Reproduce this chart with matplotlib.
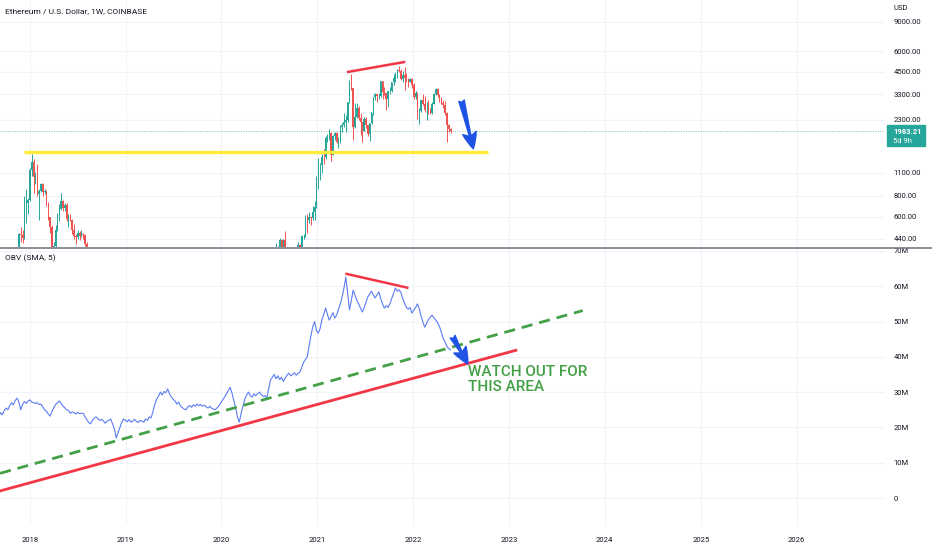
import pandas as pd
import numpy as np
import matplotlib
matplotlib.use('Agg')
import matplotlib.pyplot as plt
import matplotlib.dates as mdates
import matplotlib.ticker as mticker
from matplotlib.lines import Line2D
from matplotlib.patches import Rectangle

plt.rcParams.update({'font.family': ['Roboto', 'DejaVu Sans'], 'font.size': 5.5})

# ETH/USD weekly candles, first visible block (week of 2017-11-13 on)
seg1_start = '2017-11-13'
seg1_open = [315, 355, 470, 465, 445, 690, 720, 760, 1150, 1290, 1040, 1060, 820, 860, 940, 845, 860, 700, 600, 520,
             395, 400, 500, 620, 670, 750, 680, 700, 580, 600, 570, 500, 455, 450, 475, 460, 470, 465, 410]
seg1_high = [370, 480, 520, 500, 800, 880, 780, 1180, 1430, 1330, 1110, 1250, 880, 960, 960, 880, 870, 730, 600, 530,
             420, 530, 630, 710, 830, 760, 720, 720, 625, 625, 580, 540, 470, 495, 490, 500, 480, 470, 420]
seg1_low = [305, 350, 420, 415, 440, 550, 620, 740, 1050, 830, 950, 800, 575, 840, 800, 820, 690, 570, 480, 370,
            365, 380, 490, 560, 660, 650, 650, 560, 520, 560, 470, 440, 410, 440, 430, 450, 440, 400, 300]
seg1_close = [355, 470, 465, 445, 690, 720, 760, 1150, 1290, 1040, 1060, 820, 860, 940, 845, 860, 700, 600, 520, 395,
              400, 500, 620, 670, 750, 680, 700, 580, 600, 570, 500, 455, 450, 475, 460, 470, 465, 410, 320]

# second visible block (week of 2020-07-06 up to the running week)
seg2_start = '2020-07-06'
seg2_open = [242, 240, 238, 310, 395, 395, 430, 390, 430, 355, 370, 370, 355, 350, 375, 370, 405, 385, 460, 460,
             600, 575, 600, 590, 640, 685, 1040, 1230, 1230, 1380, 1370, 1780, 1780, 1930, 1420, 1830, 1920, 1690, 1690, 2080,
             2140, 2240, 2300, 2950, 3900, 3580, 2100, 2400, 2700, 2380, 2250, 1980, 2330, 2140, 1900, 2190, 2560, 3160, 3300, 3230,
             3230, 3930, 3400, 3330, 3060, 3420, 3420, 3880, 4100, 4300, 4600, 4570, 4090, 4290, 4130, 3970, 3920, 4050, 3760, 3150,
             3330, 2540, 2600, 3030, 2880, 2630, 2630, 2550, 2520, 2860, 3300, 3520, 3260, 3060, 2920, 2830, 2520, 2140, 2040]
seg2_high = [250, 245, 330, 415, 400, 445, 440, 440, 490, 390, 395, 375, 365, 380, 390, 420, 410, 465, 470, 615,
             620, 635, 600, 690, 740, 1050, 1350, 1270, 1470, 1540, 1830, 1880, 2040, 1950, 1870, 1950, 1940, 1820, 2140, 2200,
             2550, 2470, 2950, 4000, 4370, 3600, 2900, 2900, 2800, 2550, 2250, 2400, 2400, 2150, 2200, 2550, 3180, 3330, 3300, 3370,
             3970, 3970, 3640, 3360, 3460, 3640, 3890, 4380, 4460, 4670, 4870, 4650, 4550, 4780, 4420, 4100, 4130, 4100, 3850, 3420,
             3380, 2700, 3040, 3280, 3200, 2960, 3050, 2730, 2950, 3350, 3580, 3580, 3300, 3180, 3030, 3000, 2560, 2160, 2060]
seg2_low = [235, 230, 236, 300, 360, 365, 375, 375, 310, 325, 355, 310, 335, 335, 360, 370, 370, 375, 440, 450,
            480, 545, 535, 570, 570, 680, 880, 1000, 1100, 1250, 1340, 1700, 1750, 1300, 1420, 1730, 1670, 1550, 1680, 1940,
            2100, 1950, 2250, 2900, 3500, 1730, 2050, 2380, 2300, 1870, 1700, 1980, 2050, 1850, 1720, 2160, 2460, 3050, 2950, 3060,
            3150, 3100, 3270, 2650, 2740, 3300, 3400, 3730, 3900, 4140, 4500, 3990, 3900, 3500, 3900, 3640, 3900, 3600, 3060, 3100,
            2330, 2160, 2580, 2830, 2570, 2300, 2500, 2500, 2500, 2860, 3250, 3170, 2950, 2880, 2700, 2480, 1700, 1950, 1930]
seg2_close = [240, 238, 310, 395, 395, 430, 390, 430, 355, 370, 370, 355, 350, 375, 370, 405, 385, 460, 460, 600,
              575, 600, 590, 640, 685, 1040, 1230, 1230, 1380, 1370, 1780, 1780, 1930, 1420, 1830, 1920, 1690, 1690, 2080, 2140,
              2240, 2300, 2950, 3900, 3580, 2100, 2400, 2700, 2380, 2250, 1980, 2330, 2140, 1900, 2190, 2560, 3160, 3300, 3230, 3230,
              3930, 3400, 3330, 3060, 3420, 3420, 3880, 4100, 4300, 4600, 4570, 4090, 4290, 4130, 3970, 3920, 4050, 3760, 3150, 3330,
              2540, 2600, 3030, 2880, 2630, 2630, 2550, 2520, 2860, 3300, 3520, 3260, 3060, 2920, 2830, 2520, 2140, 2040, 1983.21]

# OBV (SMA 5), weekly, millions
obv_start = '2017-09-04'
obv_m = [23.0, 24.2, 23.6, 24.8, 25.5, 25.0, 26.2, 27.0, 26.4, 27.6,
         28.3, 27.2, 25.0, 26.5, 27.3, 26.8, 27.5, 27.8, 27.2, 27.0,
         26.8, 27.0, 26.5, 26.6, 25.8, 25.0, 24.6, 23.8, 23.2, 24.5,
         25.6, 26.5, 27.0, 27.5, 26.8, 26.0, 25.6, 25.0, 24.8, 24.0,
         24.4, 24.2, 23.8, 24.3, 23.9, 24.0, 24.0, 23.0, 22.2, 21.4,
         21.0, 22.0, 22.6, 23.0, 22.5, 22.0, 22.3, 21.8, 21.2, 21.8,
         22.0, 22.4, 21.0, 19.5, 17.0, 18.5, 20.0, 21.5, 22.4, 22.0,
         21.6, 22.2, 21.5, 21.8, 22.3, 21.7, 21.4, 22.0, 21.8, 21.5,
         22.4, 22.0, 23.0, 22.7, 24.5, 26.5, 28.0, 28.8, 30.0, 29.2,
         30.2, 29.8, 30.9, 29.5, 28.6, 28.0, 27.5, 26.6, 27.2, 26.0,
         25.6, 25.2, 25.0, 25.8, 26.2, 25.7, 26.4, 26.0, 26.6, 26.2,
         26.5, 26.0, 26.3, 25.8, 25.5, 26.0, 25.4, 25.2, 25.0, 25.6,
         26.2, 27.0, 27.8, 28.6, 29.5, 30.4, 31.4, 29.8, 27.6, 25.5,
         23.0, 21.5, 24.0, 26.0, 28.0, 29.2, 30.0, 29.0, 28.6, 29.5,
         29.0, 29.6, 30.0, 29.2, 28.8, 29.0, 28.3, 31.0, 33.5, 34.2,
         35.0, 33.8, 34.6, 33.5, 34.2, 33.0, 34.0, 34.8, 35.4, 34.6,
         35.0, 35.5, 34.8, 35.3, 35.7, 37.0, 38.5, 39.2, 40.0, 43.0,
         46.0, 48.5, 50.0, 47.5, 46.7, 48.0, 50.5, 52.0, 53.8, 52.0,
         50.4, 51.5, 52.5, 51.0, 51.8, 53.5, 55.0, 57.0, 59.5, 62.6,
         58.0, 53.3, 56.0, 58.9, 57.5, 56.0, 55.0, 53.8, 52.7, 54.0,
         55.5, 57.0, 57.8, 58.6, 57.5, 56.7, 57.6, 58.4, 56.5, 55.0,
         53.8, 54.5, 54.0, 55.0, 56.5, 58.0, 59.5, 58.6, 59.0, 58.2,
         56.5, 55.2, 54.0, 53.5, 54.0, 52.4, 53.2, 54.0, 55.0, 53.6,
         51.5, 49.8, 48.4, 49.5, 50.6, 51.2, 51.8, 51.0, 50.4, 49.6,
         48.6, 47.0, 45.3, 44.2, 43.0, 42.3, 42.0]

last_price = 1983.21
price_ticks = [440, 600, 800, 1100, 2300, 3300, 4500, 6000, 9000]
obv_ticks = [0, 10, 20, 30, 40, 50, 60, 70]

UP, DOWN = '#26a69a', '#ef5350'
TXT = '#131722'
GRID = '#f0f3fa'

fig = plt.figure(figsize=(9.32, 5.5), dpi=100)
ax1 = fig.add_axes([0, 1 - 247 / 550, 885 / 932, 247 / 550])
ax2 = fig.add_axes([0, 1 - 525 / 550, 885 / 932, 277 / 550], sharex=ax1)


def draw_candles(ax, start, o, h, l, c):
    d = pd.date_range(start, periods=len(o), freq='W-MON')
    o, h, l, c = map(np.array, (o, h, l, c))
    col = np.where(c >= o, UP, DOWN)
    ax.vlines(d, l, h, colors=col, lw=0.7, zorder=3)
    ax.bar(d, np.abs(c - o), bottom=np.minimum(o, c), width=5.5, color=col, linewidth=0, zorder=4)


draw_candles(ax1, seg1_start, seg1_open, seg1_high, seg1_low, seg1_close)
draw_candles(ax1, seg2_start, seg2_open, seg2_high, seg2_low, seg2_close)

obv_dates = pd.date_range(obv_start, periods=len(obv_m), freq='W-MON')
ax2.plot(obv_dates, obv_m, color='#5b7cf5', lw=0.8, zorder=3)

T = pd.Timestamp
# drawings on the price pane
ax1.axhline(last_price, color=UP, ls=(0, (1, 1.5)), lw=0.7, alpha=0.6, zorder=2)
ax1.plot([T('2017-12-09'), T('2022-10-12')], [1480, 1480], color='#ffeb3b', lw=2.4,
         solid_capstyle='butt', zorder=5)
ax1.plot([T('2021-04-28'), T('2021-11-27')], [4490, 5150], color='#f23645', lw=1.8, zorder=5)
arrow = dict(arrowstyle='fancy,head_length=1.3,head_width=1.1,tail_width=0.45',
             color='#1e53e5', mutation_scale=9, shrinkA=0, shrinkB=0)
ax1.annotate('', xy=(T('2022-08-18'), 1540), xytext=(T('2022-07-04'), 3008), arrowprops=arrow, zorder=6)

# drawings on the OBV pane
ax2.plot([T('2017-09-09'), T('2023-10-09')], [7.0, 53.1], color='#43a047', lw=2.0,
         dashes=(4, 2.5), zorder=4)
ax2.plot([T('2017-09-09'), T('2023-01-27')], [2.0, 41.85], color='#f23645', lw=2.0, zorder=4)
ax2.plot([T('2021-04-22'), T('2021-12-09')], [63.5, 59.6], color='#f23645', lw=1.8, zorder=4)
ax2.annotate('', xy=(T('2022-07-28'), 38.0), xytext=(T('2022-05-31'), 45.7), arrowprops=arrow, zorder=6)
ax2.text(T('2022-07-28'), 37.6, 'WATCH OUT FOR\nTHIS AREA', color='#43a047', fontsize=11,
         fontweight='medium', va='top', ha='left', linespacing=1.05, zorder=6)

# axes styling
ax1.set_yscale('log')
ax1.set_ylim(392.7, 12213)
ax2.set_ylim(-7.65, 70.84)
ax1.set_xlim(T('2017-09-09'), T('2026-12-04'))

ax1.yaxis.set_major_locator(mticker.FixedLocator(price_ticks))
ax1.yaxis.set_minor_locator(mticker.NullLocator())
ax1.yaxis.set_major_formatter(mticker.FuncFormatter(lambda v, p: '%.2f' % v))
ax2.yaxis.set_major_locator(mticker.FixedLocator(obv_ticks))
ax2.yaxis.set_major_formatter(mticker.FuncFormatter(lambda v, p: '0' if v == 0 else '%dM' % v))
ax2.xaxis.set_major_locator(mdates.YearLocator())
ax2.xaxis.set_major_formatter(mdates.DateFormatter('%Y'))

for ax in (ax1, ax2):
    ax.yaxis.tick_right()
    ax.tick_params(length=0, pad=6, labelsize=5.5, labelcolor=TXT)
    ax.grid(color=GRID, lw=0.8)
    ax.set_axisbelow(True)
    for s in ax.spines.values():
        s.set_visible(False)
ax1.tick_params(labelbottom=False)
ax2.tick_params(axis='x', pad=9)

# labels and the last price tag
fig.text(5 / 932, 1 - 11 / 550, 'Ethereum / U.S. Dollar, 1W, COINBASE', fontsize=6, color=TXT, va='center')
fig.text(5 / 932, 1 - 258 / 550, 'OBV (SMA, 5)', fontsize=6, color=TXT, va='center')
fig.text(893 / 932, 1 - 8 / 550, 'USD', fontsize=5.5, color=TXT, va='center')
fig.add_artist(Line2D([0, 1], [1 - 247.5 / 550] * 2, color='#787b86', lw=1.2, transform=fig.transFigure))
fig.add_artist(Rectangle((887 / 932, 1 - 146 / 550), 38 / 932, 21 / 550, color=UP, transform=fig.transFigure))
fig.text(893 / 932, 1 - 131 / 550, '%.2f' % last_price, fontsize=5.5, color='white', fontweight='bold', va='center')
fig.text(893 / 932, 1 - 141 / 550, '5d 9h', fontsize=5.5, color='white', va='center')

fig.savefig('out.png', dpi=100, facecolor='white')
